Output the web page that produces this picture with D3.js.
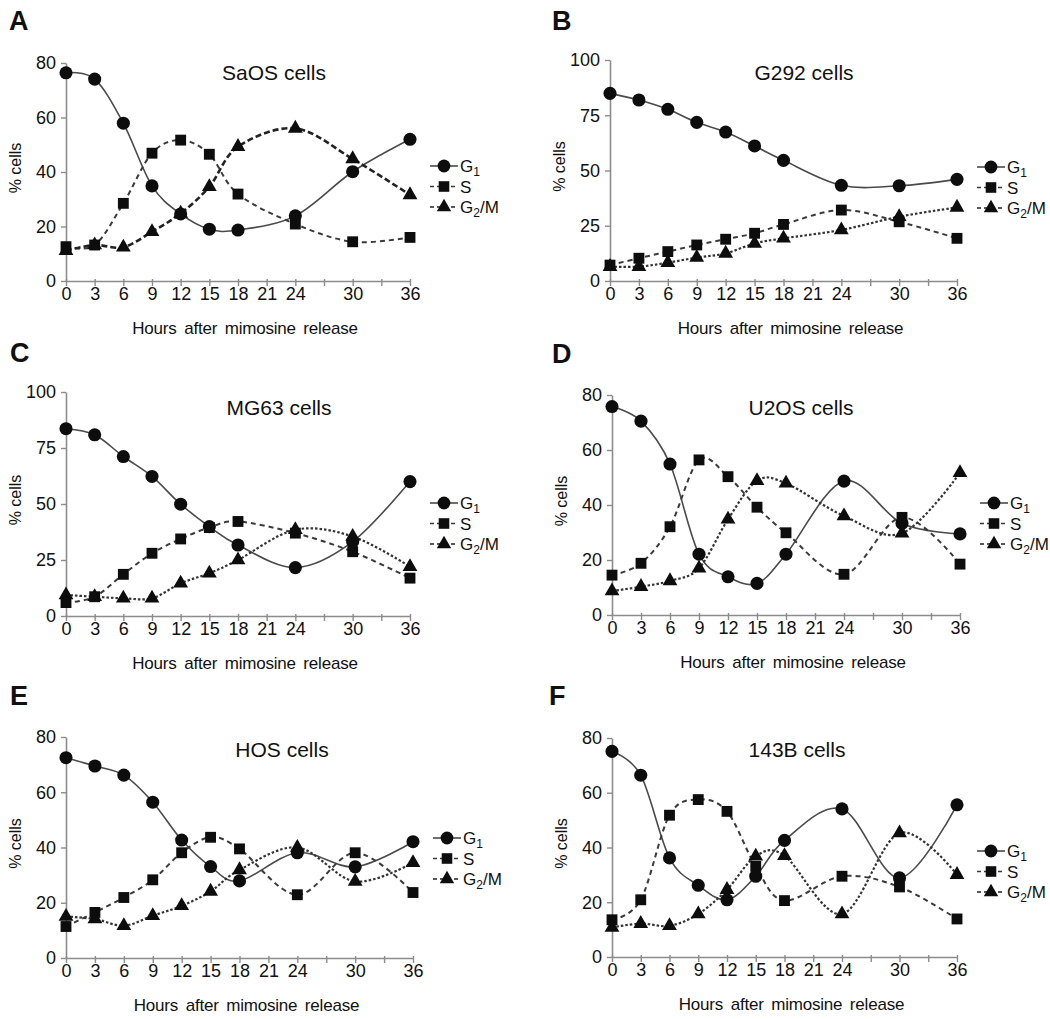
<!DOCTYPE html>
<html><head><meta charset="utf-8">
<script src="https://cdn.jsdelivr.net/npm/d3@7"></script>
<style>
body{margin:0;background:#fff}
svg{display:block}
text{font-family:"Liberation Sans",Arial,Helvetica,sans-serif;fill:#111}
</style>
</head><body>
<svg id="chart" width="1050" height="1019"></svg>
<script>
// ---------------- data ----------------
const hours = [0, 3, 6, 9, 12, 15, 18, 24, 30, 36];
const xTickValues = [0, 3, 6, 9, 12, 15, 18, 21, 24, 27, 30, 33, 36];
const xTickLabels = ["0", "3", "6", "9", "12", "15", "18", "21", "24", "", "30", "", "36"];
const yTicks80 = [0, 20, 40, 60, 80];
const yTicks100 = [0, 25, 50, 75, 100];
const panelLetters = ["A", "B", "C", "D", "E", "F"];
const panelTitles = ["SaOS cells", "G292 cells", "MG63 cells", "U2OS cells", "HOS cells", "143B cells"];
const seriesNames = ["G1", "S", "G2/M"];
const xAxisTitle = "Hours after mimosine release";
const yAxisTitle = "% cells";

const saosG1  = [76.4, 74.1, 57.9, 34.9, 24.6, 19.0, 18.7, 23.9, 40.1, 52.0];
const saosS   = [12.6, 13.2, 28.5, 46.9, 51.7, 46.5, 31.9, 20.9, 14.4, 16.0];
const saosG2M = [11.1, 13.2, 12.4, 18.1, 24.8, 34.6, 49.3, 56.0, 44.8, 31.6];

const g292G1  = [84.9, 81.9, 77.7, 71.8, 67.4, 61.1, 54.6, 43.3, 43.1, 46.0];
const g292S   = [7.2, 10.3, 13.3, 16.3, 18.9, 21.6, 25.6, 32.1, 26.8, 19.3];
const g292G2M = [6.5, 6.5, 8.3, 10.6, 12.5, 17.0, 19.3, 23.1, 29.1, 33.3];

const mg63G1  = [83.6, 80.9, 71.2, 62.3, 49.9, 39.9, 31.7, 21.6, 33.2, 60.0];
const mg63S   = [6.0, 8.6, 18.6, 28.0, 34.4, 39.5, 42.2, 37.0, 28.7, 16.9];
const mg63G2M = [9.4, 8.6, 7.9, 7.9, 14.6, 19.1, 25.0, 38.5, 35.5, 22.0];

const u2osG1  = [75.8, 70.5, 54.9, 22.1, 13.9, 11.5, 22.1, 48.7, 33.3, 29.5];
const u2osS   = [14.5, 18.8, 32.1, 56.4, 50.3, 39.2, 29.9, 14.8, 35.5, 18.5];
const u2osG2M = [8.7, 10.3, 12.4, 17.0, 34.8, 48.8, 47.9, 36.0, 29.7, 51.7];

const hosG1   = [72.5, 69.5, 66.2, 56.4, 42.7, 33.1, 27.9, 38.1, 33.0, 42.1];
const hosS    = [11.4, 16.5, 21.9, 28.3, 38.1, 43.7, 39.5, 22.9, 38.1, 23.7];
const hosG2M  = [15.0, 14.1, 11.7, 15.3, 18.9, 24.1, 31.9, 40.0, 27.7, 34.5];

const b143G1  = [75.1, 66.4, 36.2, 26.2, 20.9, 29.5, 42.6, 54.1, 28.9, 55.6];
const b143S   = [13.6, 20.9, 51.8, 57.5, 53.2, 33.1, 20.6, 29.5, 25.6, 13.9];
const b143G2M = [10.8, 12.2, 11.4, 15.7, 24.6, 36.8, 37.0, 15.7, 45.3, 30.1];

const panelSeries = [
  [saosG1, saosS, saosG2M],
  [g292G1, g292S, g292G2M],
  [mg63G1, mg63S, mg63G2M],
  [u2osG1, u2osS, u2osG2M],
  [hosG1, hosS, hosG2M],
  [b143G1, b143S, b143G2M]
];
const panelYTicks = [yTicks80, yTicks100, yTicks100, yTicks80, yTicks80, yTicks80];

// ---------------- layout (positions / styles) ----------------
const layout = [
  {x0: 66,  x1: 410, y0: 281, y1: 63,  letter: [9, 30],   title: [274, 80],  legendY: 166, g2m: "dash"},
  {x0: 610, x1: 957, y0: 281, y1: 60,  letter: [552, 30], title: [804, 80],  legendY: 167, g2m: "dot"},
  {x0: 66,  x1: 410, y0: 616, y1: 392, letter: [10, 362], title: [279, 415], legendY: 503, g2m: "dot"},
  {x0: 612, x1: 960, y0: 615, y1: 395, letter: [552, 363], title: [801, 415], legendY: 503, g2m: "dot"},
  {x0: 66,  x1: 413, y0: 958, y1: 737, letter: [10, 705], title: [282, 757], legendY: 838, g2m: "dot"},
  {x0: 612, x1: 957, y0: 957, y1: 738, letter: [549, 705], title: [797, 757], legendY: 851, g2m: "dot"}
];

const axisColor = "#8c8c8c";
const markerColor = "#0d0d0d";
const symbolTypes = [d3.symbolCircle, d3.symbolSquare, d3.symbolTriangle];
const symbolSizes = [135, 118, 95];

function lineStyle(sel, si, g2m) {
  if (si === 0) {
    sel.attr("stroke", "#4a4a4a").attr("stroke-width", 1.6);
  } else if (si === 1) {
    sel.attr("stroke", "#3a3a3a").attr("stroke-width", 2).attr("stroke-dasharray", "5,4");
  } else if (g2m === "dash") {
    sel.attr("stroke", "#222").attr("stroke-width", 2.6).attr("stroke-dasharray", "6,3");
  } else {
    sel.attr("stroke", "#333").attr("stroke-width", 2.2).attr("stroke-dasharray", "2.5,2");
  }
  return sel;
}

const svg = d3.select("#chart");
svg.append("rect").attr("width", 1050).attr("height", 1019).attr("fill", "#fff");

layout.forEach((L, pi) => {
  const yTicks = panelYTicks[pi];
  const ymax = yTicks[yTicks.length - 1];
  const x = d3.scaleLinear().domain([0, 36]).range([L.x0, L.x1]);
  const y = d3.scaleLinear().domain([0, ymax]).range([L.y0, L.y1]);
  const g = svg.append("g");

  // panel letter
  g.append("text").attr("x", L.letter[0]).attr("y", L.letter[1])
    .attr("font-size", 27).attr("font-weight", "bold").text(panelLetters[pi]);

  // title
  g.append("text").attr("x", L.title[0]).attr("y", L.title[1])
    .attr("text-anchor", "middle").attr("font-size", 21).text(panelTitles[pi]);

  // y axis
  const ya = g.append("g").attr("transform", `translate(${L.x0},0)`)
    .call(d3.axisLeft(y).tickValues(yTicks).tickSize(5).tickSizeOuter(0).tickPadding(5));
  ya.select(".domain").attr("stroke", axisColor).attr("stroke-width", 1.6);
  ya.selectAll(".tick line").attr("stroke", axisColor).attr("stroke-width", 1.4);
  ya.selectAll(".tick text").attr("font-size", 18).attr("fill", "#111")
    .attr("font-family", "'Liberation Sans',Arial,sans-serif");

  // x axis
  const xa = g.append("g").attr("transform", `translate(0,${L.y0})`)
    .call(d3.axisBottom(x).tickValues(xTickValues).tickSize(5).tickSizeOuter(0).tickPadding(1)
      .tickFormat((d, i) => xTickLabels[i]));
  xa.select(".domain").attr("stroke", axisColor).attr("stroke-width", 1.6);
  xa.selectAll(".tick line").attr("stroke", axisColor).attr("stroke-width", 1.4).attr("y1", -2);
  xa.selectAll(".tick text").attr("font-size", 18).attr("fill", "#111")
    .attr("font-family", "'Liberation Sans',Arial,sans-serif");

  // axis titles
  g.append("text").attr("x", (L.x0 + L.x1) / 2 + 7).attr("y", L.y0 + 53)
    .attr("text-anchor", "middle").attr("font-size", 17).attr("word-spacing", 3)
    .attr("letter-spacing", -0.2).text(xAxisTitle);
  g.append("text")
    .attr("transform", `translate(${L.x0 - 45},${(L.y0 + L.y1) / 2 - 4}) rotate(-90)`)
    .attr("text-anchor", "middle").attr("font-size", 16).text(yAxisTitle);

  // lines
  const series = panelSeries[pi];
  const line = d3.line().x((d, i) => x(hours[i])).y(d => y(d)).curve(d3.curveCatmullRom.alpha(0));
  series.forEach((vals, si) => {
    lineStyle(g.append("path").datum(vals).attr("fill", "none").attr("d", line), si, L.g2m);
  });
  // markers
  series.forEach((vals, si) => {
    g.append("g").selectAll("path").data(vals).join("path")
      .attr("transform", (d, i) => `translate(${x(hours[i])},${y(d)})`)
      .attr("d", d3.symbol(symbolTypes[si], symbolSizes[si]))
      .attr("fill", markerColor);
  });

  // legend
  const lx = L.x1 + 34;
  seriesNames.forEach((name, si) => {
    const ly = L.legendY + si * 20.5;
    const lg = g.append("g");
    lineStyle(lg.append("line").attr("x1", lx - 14).attr("x2", lx + 14).attr("y1", ly).attr("y2", ly), si,
      si === 2 ? "dash" : L.g2m).attr("stroke-dasharray", si === 0 ? null : "4,3").attr("stroke-width", 1.6);
    lg.append("path").attr("transform", `translate(${lx},${ly})`)
      .attr("d", d3.symbol(symbolTypes[si], symbolSizes[si] * 0.95)).attr("fill", markerColor);
    const t = lg.append("text").attr("x", lx + 16).attr("y", ly + 6).attr("font-size", 17);
    if (si === 0) {
      t.append("tspan").text("G");
      t.append("tspan").attr("font-size", 12).attr("dy", 4).text("1");
    } else if (si === 1) {
      t.text("S");
    } else {
      t.append("tspan").text("G");
      t.append("tspan").attr("font-size", 12).attr("dy", 4).text("2");
      t.append("tspan").attr("dy", -4).text("/M");
    }
  });
});
</script>
</body></html>
